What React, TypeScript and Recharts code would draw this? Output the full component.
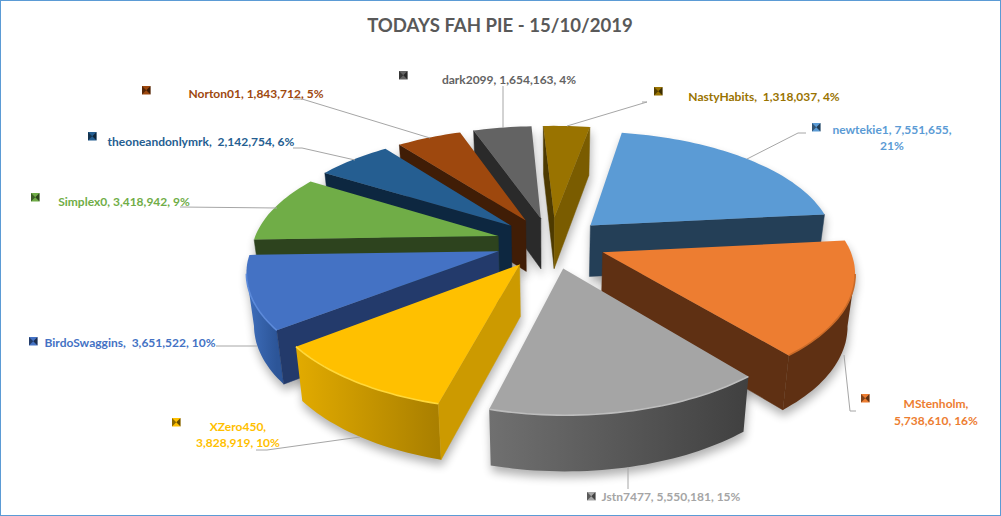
// Exploded perspective pie: Recharts works out the slice angles, the custom shape tilts them.
import { Pie, PieChart } from 'recharts';

const NAMES = ['newtekie1', 'MStenholm', 'Jstn7477', 'XZero450', 'BirdoSwaggins', 'Simplex0', 'theoneandonlymrk', 'Norton01', 'dark2099', 'NastyHabits'];
const VALUES = [7551655, 5738610, 5550181, 3828919, 3651522, 3418942, 2142754, 1843712, 1654163, 1318037];
const PERCENTS = [21, 16, 15, 10, 10, 9, 6, 5, 4, 4];

const FILLS = ['#5B9BD5', '#ED7D31', '#A5A5A5', '#FFC000', '#4472C4', '#70AD47', '#255E91', '#9E480E', '#636363', '#997300'];
const SIDE_START = ['#243F57', '#5F3013', '#555555', '#CC9A00', '#233A6B', '#2D431E', '#0D2740', '#401D06', '#2A2A2A', '#4D3A00'];
const SIDE_END = ['#243F57', '#5F3013', '#555555', '#CC9A00', '#233A6B', '#2D431E', '#0D2740', '#401D06', '#2A2A2A', '#7A5C00'];
const ARC_LEFT = ['#243F57', '#5F3013', '#707070', '#E2AB00', '#3F6FBD', '#2D431E', '#0D2740', '#401D06', '#2A2A2A', '#7A5C00'];
const ARC_RIGHT = ['#243F57', '#5F3013', '#404040', '#A97F00', '#2C5598', '#2D431E', '#0D2740', '#401D06', '#2A2A2A', '#7A5C00'];
const BEVEL = ['#6AA8E0', '#C96A28', '#BDBDBD', '#FFD83A', '#5C8ADA', '#70AD47', '#255E91', '#9E480E', '#636363', '#997300'];

// back to front
const DRAW_ORDER = [9, 8, 0, 7, 6, 5, 4, 1, 3, 2];

const WIDTH = 1001;
const HEIGHT = 516;
const CX = 551;
const CY = 242.5;
const RADIUS = 245;
const FLATTEN = 0.465;
const PERSPECTIVE_X = 0.15;
const PERSPECTIVE_Y = 0.16;
const EXPLODE = 0.225;
const FONT = 'Lato, sans-serif';
const LEADER = '#A6A6A6';

// text centre, line baselines, legend key corner, leader polyline
const LABELS = [
  { x: 892, ys: [134, 150], lines: (n, v, p) => [`${n}, ${v},`, `${p}%`], key: [812, 123], leader: '747,159 798,133 806,133' },
  { x: 936, ys: [408, 425], lines: (n, v, p) => [`${n},`, `${v}, ${p}%`], key: [861, 394], leader: '844,355 850,411 856,411' },
  { x: 671, ys: [501], lines: (n, v, p) => [`${n}, ${v}, ${p}%`], key: [587, 492], leader: '628,467 628,489' },
  { x: 238, ys: [431, 447], lines: (n, v, p) => [`${n},`, `${v}, ${p}%`], key: [172, 418], leader: '256,450 267,450 360,437' },
  { x: 130, ys: [347], lines: (n, v, p) => [`${n},  ${v}, ${p}%`], key: [29, 337], leader: '216,346 257,346' },
  { x: 124, ys: [206], lines: (n, v, p) => [`${n}, ${v}, ${p}%`], key: [31, 193], leader: '180,207 277,208' },
  { x: 201, ys: [146], lines: (n, v, p) => [`${n},  ${v}, ${p}%`], key: [88, 132], leader: '293,148 302,148 355,160' },
  { x: 256, ys: [98], lines: (n, v, p) => [`${n}, ${v}, ${p}%`], key: [142, 86], leader: '293,99 302,99 430,138' },
  { x: 509, ys: [84], lines: (n, v, p) => [`${n}, ${v}, ${p}%`], key: [399, 71], leader: '503,86 503,128' },
  { x: 764, ys: [101], lines: (n, v, p) => [`${n},  ${v}, ${p}%`], key: [654, 87], leader: '642,102 647,102 567,126' },
];

const tableData = NAMES.map((name, i) => ({ name, value: VALUES[i] }));

const rad = (d) => (d * Math.PI) / 180;

// tilt a point of the pie's plane (unit radius, y towards the viewer) onto the screen
function project(cx, cy, r, X, Y) {
  return {
    x: cx + (r * X) / (1 - PERSPECTIVE_X * Y),
    y: cy + (r * FLATTEN * Y) / (1 - PERSPECTIVE_Y * Y),
  };
}

function lower(p, cx, cy) {
  return { x: cx + (p.x - cx) * 0.975, y: p.y + 51 + (p.y - cy + 14) * 0.028 };
}

const pts = (list) => list.map((p) => `${p.x.toFixed(1)},${p.y.toFixed(1)}`).join(' ');

function Wedge({ sector, i, shadow }) {
  const { cx, cy, outerRadius: r, startAngle, endAngle } = sector;
  const a0 = 90 - startAngle;
  const a1 = 90 - endAngle;
  const mid = rad((a0 + a1) / 2);
  const ox = EXPLODE * Math.sin(mid);
  const oy = -EXPLODE * Math.cos(mid);
  const tip = project(cx, cy, r, ox, oy);
  const arc = [];
  const steps = Math.max(4, Math.ceil((a1 - a0) / 1.5));
  for (let k = 0; k <= steps; k++) {
    const a = rad(a0 + ((a1 - a0) * k) / steps);
    arc.push(project(cx, cy, r, ox + Math.sin(a), oy - Math.cos(a)));
  }
  const first = arc[0];
  const last = arc[arc.length - 1];
  const low = (p) => lower(p, cx, cy);

  const run = [];
  for (let k = 0; k < arc.length - 1; k++) {
    if (arc[k + 1].x < arc[k].x) {
      if (!run.length) run.push(arc[k]);
      run.push(arc[k + 1]);
    }
  }
  const gradId = `wall-${i}`;
  const startFill = shadow ? '#000' : SIDE_START[i];
  const endFill = shadow ? '#000' : SIDE_END[i];
  const body = (
    <>
      {run.length > 1 && (
        <polygon points={pts([...run, ...run.map(low).reverse()])} fill={shadow ? '#000' : `url(#${gradId})`} />
      )}
      {tip.x > first.x && (
        <polygon points={pts([tip, first, low(first), low(tip)])} fill={startFill} stroke={startFill} strokeWidth={0.5} />
      )}
      {last.x > tip.x && (
        <polygon points={pts([last, tip, low(tip), low(last)])} fill={endFill} stroke={endFill} strokeWidth={0.5} />
      )}
      <polygon points={pts([tip, ...arc])} fill={shadow ? '#000' : FILLS[i]} />
      {!shadow && run.length > 1 && (
        <polyline points={pts(run)} fill="none" stroke={BEVEL[i]} strokeWidth={1.6} />
      )}
    </>
  );

  if (shadow) {
    return (
      <g filter="url(#wedge-shadow)" opacity={0.3}>
        <defs>
          <filter id="wedge-shadow" x="-30%" y="-30%" width="160%" height="160%">
            <feGaussianBlur stdDeviation="5" />
          </filter>
        </defs>
        <g transform="translate(1 6)">{body}</g>
      </g>
    );
  }
  return (
    <g>
      <defs>
        <linearGradient
          id={gradId}
          gradientUnits="userSpaceOnUse"
          x1={run.length ? run[run.length - 1].x : 0}
          x2={run.length ? run[0].x : 1}
          y1={0}
          y2={0}
        >
          <stop offset="0%" stopColor={ARC_LEFT[i]} />
          <stop offset="100%" stopColor={ARC_RIGHT[i]} />
        </linearGradient>
      </defs>
      {body}
    </g>
  );
}

function LegendKey({ x, y, color }) {
  const s = 8.5;
  return (
    <g>
      <rect x={x} y={y} width={s} height={s} fill={color} />
      <polygon points={`${x},${y} ${x + s / 2},${y + s / 2} ${x},${y + s}`} fill="#000" opacity={0.45} />
      <polygon points={`${x + s},${y} ${x + s / 2},${y + s / 2} ${x + s},${y + s}`} fill="#000" opacity={0.6} />
    </g>
  );
}

function renderLabel(props) {
  const i = props.index;
  const spot = LABELS[i];
  const lines = spot.lines(NAMES[i], VALUES[i].toLocaleString('en-US'), PERCENTS[i]);
  return (
    <g key={NAMES[i]}>
      <polyline points={spot.leader} fill="none" stroke={LEADER} strokeWidth={1} />
      <LegendKey x={spot.key[0]} y={spot.key[1]} color={FILLS[i]} />
      {lines.map((line, k) => (
        <text
          key={k}
          x={spot.x}
          y={spot.ys[k]}
          textAnchor="middle"
          fontFamily={FONT}
          fontSize={12}
          fontWeight={700}
          fill={FILLS[i]}
          style={{ whiteSpace: 'pre' }}
        >
          {line}
        </text>
      ))}
    </g>
  );
}

export default function App() {
  const pieBase = {
    data: tableData,
    dataKey: 'value',
    nameKey: 'name',
    cx: CX,
    cy: CY,
    outerRadius: RADIUS,
    startAngle: 80,
    endAngle: -280,
    stroke: 'none',
    isAnimationActive: false,
    labelLine: false,
  };
  return (
    <div
      style={{
        position: 'absolute',
        left: 0,
        top: 0,
        width: WIDTH,
        height: HEIGHT,
        boxSizing: 'border-box',
        border: '1px solid #5B9BD5',
        background: '#fff',
        overflow: 'hidden',
      }}
    >
      <div style={{ position: 'absolute', left: -1, top: -1 }}>
        <PieChart width={WIDTH} height={HEIGHT} margin={{ top: 0, right: 0, bottom: 0, left: 0 }}>
          <text x={500} y={32} textAnchor="middle" fontFamily={FONT} fontSize={18.6} fontWeight={700} fill="#595959">
            TODAYS FAH PIE - 15/10/2019
          </text>
          <Pie
            {...pieBase}
            shape={(p) => <Wedge sector={p} i={NAMES.indexOf(p.name)} shadow />}
          />
          {DRAW_ORDER.map((idx) => (
            <Pie
              key={idx}
              {...pieBase}
              shape={(p) => (NAMES.indexOf(p.name) === idx ? <Wedge sector={p} i={idx} /> : <g />)}
            />
          ))}
          <Pie {...pieBase} shape={() => <g />} label={renderLabel} />
        </PieChart>
      </div>
    </div>
  );
}
